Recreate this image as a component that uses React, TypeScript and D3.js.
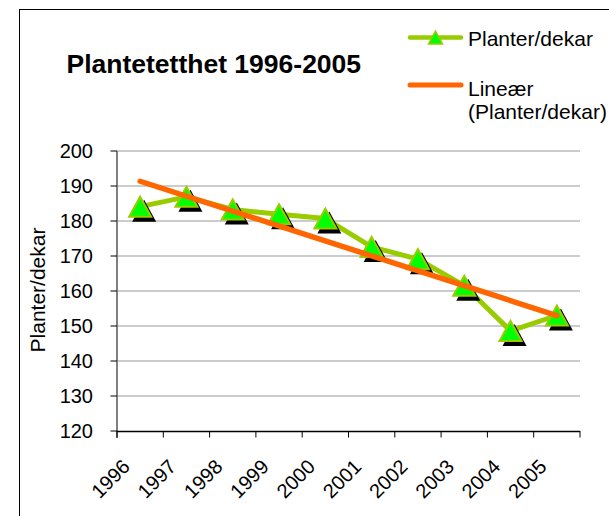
import React from 'react';
import * as d3 from 'd3';

// data
const years = ['1996', '1997', '1998', '1999', '2000', '2001', '2002', '2003', '2004', '2005'];
const planter = [184.1, 186.9, 183.3, 181.9, 180.7, 172.6, 169.1, 161.5, 148.6, 153.0];
const yTicks = [120, 130, 140, 150, 160, 170, 180, 190, 200];

const FONT = '"Liberation Sans", Arial, sans-serif';
const GREEN_LINE = '#99CC00';
const GREEN_FILL = '#00FF00';
const ORANGE = '#FF6600';

// least squares trend line (Excel "Lineær")
function linearFit(ys: number[]) {
  const n = ys.length;
  const xm = (n - 1) / 2;
  const ym = d3.mean(ys) as number;
  let sxy = 0, sxx = 0;
  ys.forEach((y, i) => {
    sxy += (i - xm) * (y - ym);
    sxx += (i - xm) * (i - xm);
  });
  const slope = sxy / sxx;
  return (i: number) => ym + slope * (i - xm);
}

const tri = (w: number, h: number) => `M0,${-h}L${w},${h}L${-w},${h}Z`;

export default function App() {
  const width = 609;
  const height = 516;

  const x = d3.scaleBand<string>().domain(years).range([117, 580]);
  const y = d3.scaleLinear().domain([120, 200]).range([431, 151]);
  const cx = (yr: string) => (x(yr) as number) + x.bandwidth() / 2;

  const line = d3.line<number>()
    .x((_, i) => cx(years[i]))
    .y((d) => y(d));

  const fit = linearFit(planter);
  const trend = [fit(0), fit(years.length - 1)];
  const trendLine = d3.line<number>()
    .x((_, i) => cx(years[i === 0 ? 0 : years.length - 1]))
    .y((d) => y(d));

  const boundaries = [...years.map((yr) => x(yr) as number), x.range()[1]];

  return (
    <svg width={width} height={height} style={{ position: 'absolute', left: 0, top: 0 }} fontFamily={FONT}>
      <rect x={0} y={0} width={width} height={height} fill="#fff" />
      {/* chart area frame, runs off the picture on the right and bottom */}
      <rect x={19.5} y={9.5} width={700} height={600} fill="none" stroke="#000" strokeWidth={1} />

      <text x={66.5} y={73} fontSize={26.5} fontWeight="bold" fill="#000">Plantetetthet 1996-2005</text>

      {/* gridlines */}
      {yTicks.filter((t) => t > 120).map((t) => (
        <line key={t} x1={117} x2={580} y1={y(t)} y2={y(t)} stroke="#999" strokeWidth={1} />
      ))}

      {/* y axis */}
      <line x1={117} x2={117} y1={151} y2={438} stroke="#808080" strokeWidth={2} />
      {yTicks.map((t) => (
        <g key={t}>
          <line x1={110.5} x2={117} y1={y(t)} y2={y(t)} stroke="#000" strokeWidth={1} />
          <text x={93} y={y(t)} dy="0.36em" textAnchor="end" fontSize={20} fill="#000">{t}</text>
        </g>
      ))}
      <text transform="translate(45,290) rotate(-90)" textAnchor="middle" fontSize={21} fill="#000">Planter/dekar</text>

      {/* x axis */}
      <line x1={117} x2={580} y1={431.5} y2={431.5} stroke="#000" strokeWidth={1.5} />
      {boundaries.map((b, i) => (
        <line key={i} x1={b} x2={b} y1={431} y2={437.5} stroke="#000" strokeWidth={1} />
      ))}
      {years.map((yr) => (
        <text key={yr} transform={`translate(${cx(yr) - 9},468) rotate(-45)`} textAnchor="end" fontSize={20} fill="#000">{yr}</text>
      ))}

      {/* series */}
      <path d={line(planter) as string} fill="none" stroke={GREEN_LINE} strokeWidth={5} strokeLinejoin="round" />
      {planter.map((v, i) => (
        <path key={'s' + i} d={tri(12, 11)} transform={`translate(${cx(years[i]) + 4},${y(v) + 4})`} fill="#000" />
      ))}
      {planter.map((v, i) => (
        <path key={'m' + i} d={tri(11, 10)} transform={`translate(${cx(years[i])},${y(v)})`} fill={GREEN_FILL} stroke={GREEN_LINE} strokeWidth={2} strokeLinejoin="miter" />
      ))}
      <path d={trendLine(trend) as string} fill="none" stroke={ORANGE} strokeWidth={5.5} strokeLinecap="round" />

      {/* legend */}
      <line x1={410} x2={461} y1={37.5} y2={37.5} stroke={GREEN_LINE} strokeWidth={4.5} strokeLinecap="round" />
      <path d={tri(7, 6.5)} transform="translate(435.5,37.5)" fill={GREEN_FILL} stroke={GREEN_LINE} strokeWidth={1.5} />
      <text x={468} y={46} fontSize={21} fill="#000">Planter/dekar</text>
      <line x1={410} x2={461} y1={85} y2={85} stroke={ORANGE} strokeWidth={5} strokeLinecap="round" />
      <text x={468} y={96} fontSize={21} fill="#000">Lineær</text>
      <text x={468} y={119} fontSize={21} fill="#000">(Planter/dekar)</text>
    </svg>
  );
}
